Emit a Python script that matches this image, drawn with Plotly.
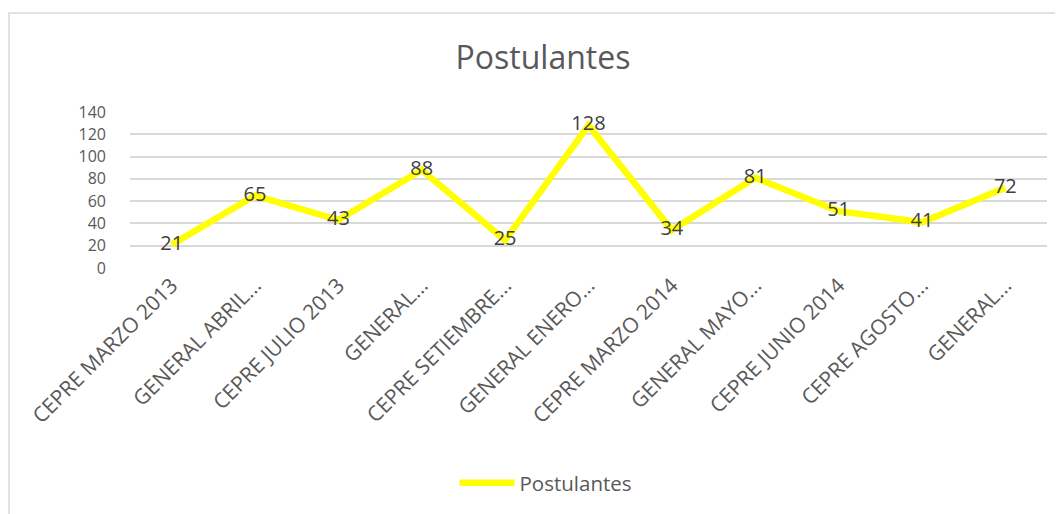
import plotly.graph_objects as go

categories = ["CEPRE MARZO 2013", "GENERAL ABRIL...", "CEPRE JULIO 2013", "GENERAL...",
              "CEPRE SETIEMBRE...", "GENERAL ENERO...", "CEPRE MARZO 2014", "GENERAL MAYO...",
              "CEPRE JUNIO 2014", "CEPRE AGOSTO...", "GENERAL..."]
postulantes = [21, 65, 43, 88, 25, 128, 34, 81, 51, 41, 72]
y_ticks = [0, 20, 40, 60, 80, 100, 120, 140]

# page body has an 8px margin; target pixel coords are converted by subtracting it
OFF = 8
W, H = 1063, 514
L = 130 - OFF
T = 112 - OFF
R = W - (1047 - OFF)
B = H - (268 - OFF)
pw, ph = W - L - R, H - T - B


def px_x(x):
    return (x - OFF - L) / pw


def px_y(y):
    return (H - B - (y - OFF)) / ph


FONT = "Open Sans"
fig = go.Figure()
fig.add_trace(go.Scatter(
    x=list(range(len(categories))), y=postulantes, mode="lines+text", name="Postulantes",
    line=dict(color="#FFFF00", width=6.5),
    text=[str(v) for v in postulantes], textposition="middle center",
    textfont=dict(family=FONT, size=20, color="#404040"),
    cliponaxis=False,
))

fig.update_layout(
    width=W, height=H,
    margin=dict(l=L, r=R, t=T, b=B),
    paper_bgcolor="white", plot_bgcolor="white",
    title=dict(text="Postulantes", x=(543 - OFF) / W, xref="container", xanchor="center",
               y=1 - (58 - OFF) / H, yref="container", yanchor="middle",
               font=dict(family=FONT, size=32, color="#595959")),
    showlegend=True,
    legend=dict(orientation="h", x=px_x(546), xanchor="center",
                y=px_y(483), yanchor="middle",
                font=dict(family=FONT, size=20.5, color="#595959"),
                itemwidth=55),
    xaxis=dict(range=[-0.5, len(categories) - 0.5], tickmode="array",
               tickvals=list(range(len(categories))), ticktext=categories,
               tickangle=-45, showgrid=False, zeroline=False, showline=False,
               ticks="", tickfont=dict(family=FONT, size=21, color="#595959")),
    yaxis=dict(range=[0, 140], tickmode="array", tickvals=y_ticks,
               showgrid=True, gridcolor="#D9D9D9", gridwidth=1.5, zeroline=False,
               showline=False, ticks="", ticklabelstandoff=23,
               tickfont=dict(family=FONT, size=16, color="#595959")),
    shapes=[dict(type="rect", xref="paper", yref="paper",
                 x0=px_x(9), x1=px_x(1080),
                 y0=px_y(540), y1=px_y(13),
                 line=dict(color="#D9D9D9", width=1.5), fillcolor="rgba(0,0,0,0)", layer="below")],
)

fig.write_html("out.html")
